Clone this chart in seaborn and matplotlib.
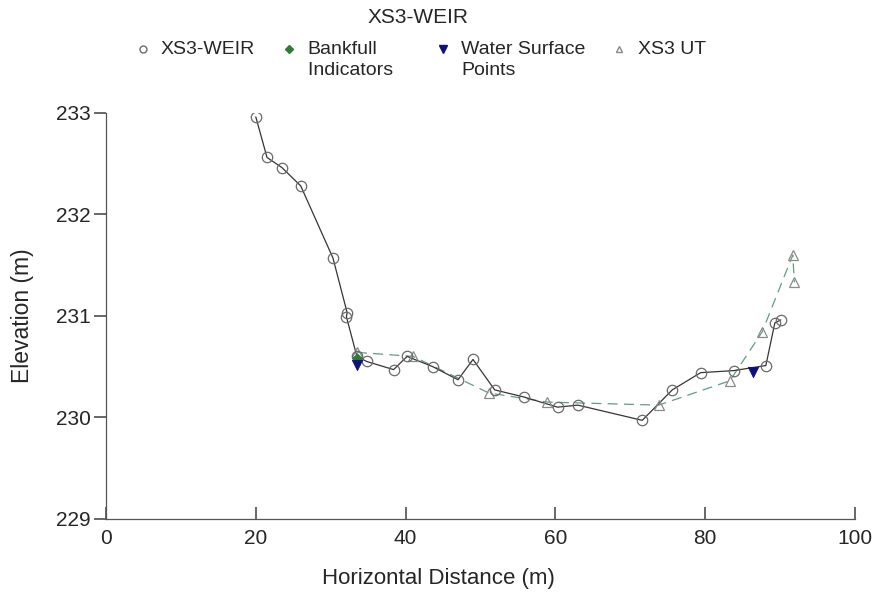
import matplotlib
matplotlib.use("Agg")
import matplotlib.pyplot as plt
from matplotlib.lines import Line2D
from matplotlib.legend_handler import HandlerLine2D
from matplotlib.transforms import Affine2D
import seaborn as sns
import pandas as pd

# XS3-WEIR survey (circles, solid line)
weir_x = [20.0, 21.5, 23.5, 26.0, 30.3, 32.2, 32.1, 33.5, 34.8, 38.4, 40.2, 43.6, 47.0, 49.0,
          51.9, 55.8, 60.3, 63.0, 71.6, 75.6, 79.4, 83.8, 88.1, 89.3, 90.1]
weir_y = [232.96, 232.56, 232.46, 232.28, 231.57, 231.03, 230.99, 230.60, 230.55, 230.47, 230.60,
          230.50, 230.37, 230.57, 230.27, 230.20, 230.10, 230.12, 229.97, 230.27, 230.44,
          230.46, 230.51, 230.93, 230.96]

# XS3 UT (triangles, dashed line)
ut_x = [33.5, 41.0, 51.1, 58.9, 73.8, 83.3, 87.6, 91.7, 91.9]
ut_y = [230.64, 230.60, 230.24, 230.15, 230.12, 230.36, 230.84, 231.60, 231.33]

# Bankfull indicators
bf_x = [33.5]
bf_y = [230.58]

# Water surface points
ws_x = [33.5, 86.4]
ws_y = [230.52, 230.45]

x_ticks = [0, 20, 40, 60, 80, 100]
y_ticks = [229, 230, 231, 232, 233]

sns.set_theme(style="white")
plt.rcParams["font.family"] = ["Liberation Sans", "DejaVu Sans"]

fig = plt.figure(figsize=(8.76, 5.97), dpi=100)
ax = fig.add_axes([0.121, 0.131, 0.855, 0.680])

weir = pd.DataFrame({"x": weir_x, "y": weir_y})
ut = pd.DataFrame({"x": ut_x, "y": ut_y})

sns.lineplot(data=ut, x="x", y="y", sort=False, ax=ax, color="#5f9f80",
             linewidth=0.9, dashes=False, linestyle=(0, (8, 5)))
sns.lineplot(data=weir, x="x", y="y", sort=False, ax=ax, color="#3a3333", linewidth=0.9)
ax.plot(ut_x, ut_y, linestyle="none", marker="^", markersize=7, mfc="none",
        mec="#8a8a8a", mew=0.9)
ax.plot(weir_x, weir_y, linestyle="none", marker="o", markersize=7.5, mfc="none",
        mec="#6a6a6a", mew=0.9)
sns.scatterplot(x=bf_x, y=bf_y, ax=ax, marker="D", s=25, color="#2e7d32", edgecolor="#2e7d32", zorder=5)
sns.scatterplot(x=ws_x, y=ws_y, ax=ax, marker="v", s=55, color="#10107a", edgecolor="#10107a", zorder=6)

ax.set_xlim(0, 100)
ax.set_ylim(229, 233)
ax.set_xticks(x_ticks)
ax.set_yticks(y_ticks)
ax.set_xticklabels([str(v) for v in x_ticks], fontsize=15)
ax.set_yticklabels([str(v) for v in y_ticks], fontsize=15)
ax.set_xlabel("Horizontal Distance (m)", fontsize=16)
ax.xaxis.set_label_coords(0.444, -0.12)
ax.set_ylabel("Elevation (m)", fontsize=16.5, labelpad=16)
for s in ["top", "right"]:
    ax.spines[s].set_visible(False)
for s in ["left", "bottom"]:
    ax.spines[s].set_color("#555555")
    ax.spines[s].set_linewidth(0.9)
ax.tick_params(axis="x", direction="in", length=9, color="#555555", pad=7, bottom=True)
ax.tick_params(axis="y", direction="out", length=9, color="#555555", pad=2, left=True)
ax.grid(False)


class HandlerUp(HandlerLine2D):
    def create_artists(self, legend, orig_handle, xdescent, ydescent, width, height,
                       fontsize, trans):
        arts = super().create_artists(legend, orig_handle, xdescent, ydescent, width,
                                      height, fontsize, trans)
        for a in arts:
            a.set_transform(a.get_transform() + Affine2D().translate(0, 11))
        return arts


handles = [
    Line2D([], [], linestyle="none", marker="o", markersize=5, mfc="none", mec="#6a6a6a"),
    Line2D([], [], linestyle="none", marker="D", markersize=4, color="#2e7d32"),
    Line2D([], [], linestyle="none", marker="v", markersize=6, color="#10107a"),
    Line2D([], [], linestyle="none", marker="^", markersize=5, mfc="none", mec="#8a8a8a"),
]
labels = ["XS3-WEIR\n", "Bankfull\nIndicators   ", "Water Surface\nPoints", "XS3 UT\n"]
leg = fig.legend(handles, labels, ncol=4, loc="upper left", bbox_to_anchor=(0.145, 0.945),
                 frameon=False, fontsize=14, handletextpad=0.55, columnspacing=1.34,
                 handlelength=0.8, borderaxespad=0.0,
                 handler_map={Line2D: HandlerUp()})
for t in leg.get_texts():
    t.set_linespacing(1.34)
fig.text(0.477, 0.9715, "XS3-WEIR", ha="center", va="center", fontsize=15)

fig.savefig("out.png", dpi=100)
